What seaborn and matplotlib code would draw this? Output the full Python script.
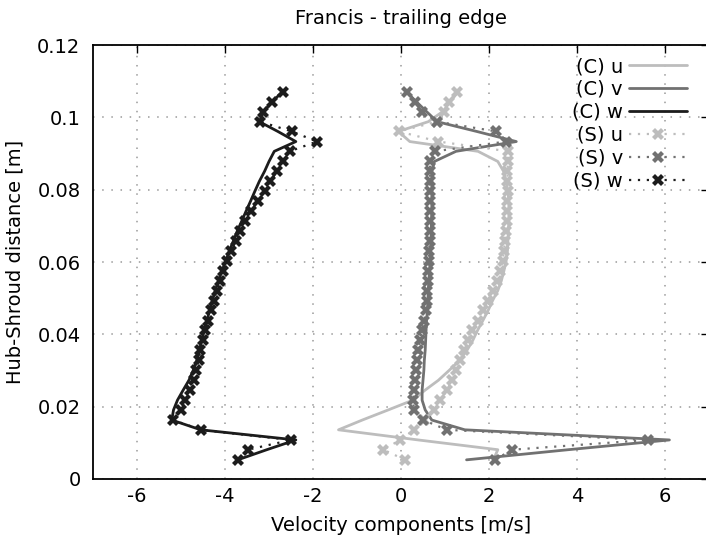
import matplotlib
matplotlib.use("Agg")
import matplotlib.pyplot as plt
import seaborn as sns

# Radial stations from hub to shroud [m]
height = [0.0053, 0.0081, 0.0108, 0.0136, 0.0163, 0.0191, 0.0218, 0.0246,
          0.0273, 0.0301, 0.0328, 0.0356, 0.0383, 0.0411, 0.0438, 0.0466,
          0.0493, 0.0521, 0.0548, 0.0576, 0.0603, 0.0631, 0.0658, 0.0686,
          0.0713, 0.0741, 0.0768, 0.0796, 0.0823, 0.0851, 0.0878, 0.0906,
          0.0933, 0.0961, 0.0988, 0.1016, 0.1043, 0.1071]

# (C) computed velocity components [m/s]
c_u = [2.10, 2.20, 0.39, -1.42, -0.88, -0.29, 0.27, 0.55,
       0.85, 1.10, 1.33, 1.50, 1.63, 1.74, 1.86, 1.98,
       2.08, 2.20, 2.28, 2.34, 2.39, 2.42, 2.43, 2.44,
       2.45, 2.45, 2.45, 2.43, 2.39, 2.33, 2.20, 1.75,
       0.20, -0.06, 0.62, 0.95, 1.12, 1.30]
c_v = [1.49, 3.80, 6.10, 1.45, 0.70, 0.55, 0.48, 0.48,
       0.50, 0.52, 0.53, 0.55, 0.56, 0.57, 0.58, 0.60,
       0.61, 0.62, 0.63, 0.65, 0.66, 0.67, 0.68, 0.69,
       0.69, 0.70, 0.70, 0.70, 0.70, 0.70, 0.76, 1.25,
       2.62, 1.72, 0.82, 0.58, 0.35, 0.12]
c_w = [-3.71, -3.05, -2.39, -4.55, -5.21, -5.17, -5.08, -4.95,
       -4.82, -4.72, -4.64, -4.58, -4.53, -4.47, -4.41, -4.35,
       -4.29, -4.22, -4.15, -4.07, -3.98, -3.90, -3.81, -3.72,
       -3.62, -3.52, -3.42, -3.32, -3.22, -3.10, -3.00, -2.88,
       -2.39, -2.80, -3.22, -3.12, -2.93, -2.69]

# (S) measured velocity components [m/s]
s_u = [0.09, -0.40, -0.02, 0.30, 0.52, 0.75, 0.89, 1.05,
       1.16, 1.26, 1.33, 1.44, 1.52, 1.62, 1.74, 1.86,
       1.97, 2.08, 2.18, 2.25, 2.31, 2.34, 2.36, 2.38,
       2.40, 2.41, 2.42, 2.43, 2.42, 2.42, 2.43, 2.44,
       0.85, -0.05, 0.82, 0.98, 1.09, 1.28]
s_v = [2.13, 2.53, 5.61, 1.04, 0.51, 0.29, 0.28, 0.29,
       0.32, 0.35, 0.37, 0.39, 0.43, 0.47, 0.53, 0.56,
       0.58, 0.60, 0.61, 0.62, 0.63, 0.64, 0.65, 0.65,
       0.66, 0.66, 0.66, 0.66, 0.66, 0.66, 0.66, 0.77,
       2.38, 2.17, 0.82, 0.48, 0.32, 0.13]
s_w = [-3.71, -3.48, -2.50, -4.55, -5.18, -5.01, -4.90, -4.80,
       -4.71, -4.66, -4.60, -4.56, -4.51, -4.45, -4.39, -4.32,
       -4.26, -4.19, -4.12, -4.04, -3.95, -3.86, -3.76, -3.66,
       -3.54, -3.41, -3.26, -3.10, -2.97, -2.82, -2.69, -2.53,
       -1.91, -2.48, -3.20, -3.14, -2.94, -2.69]

x_ticks = [-6, -4, -2, 0, 2, 4, 6]
y_ticks = [0, 0.02, 0.04, 0.06, 0.08, 0.1, 0.12]
y_tick_labels = ["0", "0.02", "0.04", "0.06", "0.08", "0.1", "0.12"]

LIGHT = "#bdbdbd"
MID = "#717171"
DARK = "#1c1c1c"

sns.set_style("white")
plt.rcParams["font.family"] = ["DejaVu Sans"]
plt.rcParams["text.color"] = "black"
plt.rcParams["axes.labelcolor"] = "black"

fig = plt.figure(figsize=(7.06, 5.53), dpi=100)
ax = fig.add_axes([93 / 706, 74 / 553, 616 / 706, 434 / 553])

curves = [
    ("(C) u", c_u, LIGHT, "-", None),
    ("(C) v", c_v, MID, "-", None),
    ("(C) w", c_w, DARK, "-", None),
    ("(S) u", s_u, LIGHT, (0, (1, 3)), "X"),
    ("(S) v", s_v, MID, (0, (1, 3)), "X"),
    ("(S) w", s_w, DARK, (0, (1, 3)), "X"),
]
for label, xs, color, ls, mk in curves:
    if mk is None:
        sns.lineplot(x=xs, y=height, sort=False, estimator=None, ax=ax,
                     color=color, linestyle=ls, linewidth=2.0, label=label)
    else:
        sns.lineplot(x=xs, y=height, sort=False, estimator=None, ax=ax,
                     color=color, linestyle=ls, linewidth=1.6, marker=mk,
                     markersize=8, markeredgewidth=0, label=label)

ax.set_xlim(-7, 7)
ax.set_ylim(0, 0.12)
ax.set_xticks(x_ticks)
ax.set_xticklabels([str(t) for t in x_ticks])
ax.set_yticks(y_ticks)
ax.set_yticklabels(y_tick_labels)
ax.tick_params(direction="in", length=6, width=1, top=True, right=True,
               labelsize=14, colors="black")
ax.tick_params(axis="x", pad=6)
ax.tick_params(axis="y", pad=9)
ax.grid(True, color="#9a9a9a", linestyle=(0, (1, 5)), linewidth=1.1)
for sp in ax.spines.values():
    sp.set_visible(True)
    sp.set_color("black")
    sp.set_linewidth(1.3)

ax.set_title("Francis - trailing edge", fontsize=14, pad=15, color="black")
ax.set_xlabel("Velocity components [m/s]", fontsize=14, labelpad=7)
ax.set_ylabel("Hub-Shroud distance [m]", fontsize=14, labelpad=9)

ax.legend(loc="upper right", bbox_to_anchor=((687 - 93) / 616, (479 - 57) / 434),
          frameon=False, markerfirst=False, fontsize=14, handlelength=3.0,
          handletextpad=0.3, labelspacing=0.2, borderpad=0, borderaxespad=0,
          numpoints=1, labelcolor="black")

fig.savefig("out.png", dpi=100)
